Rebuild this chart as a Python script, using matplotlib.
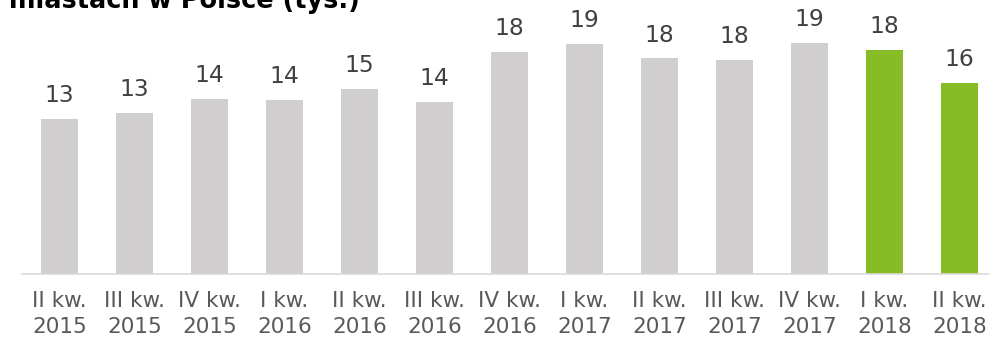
import matplotlib
matplotlib.use("Agg")
import matplotlib.pyplot as plt

# Quarterly values (thousands)
quarters = ["II kw.\n2015", "III kw.\n2015", "IV kw.\n2015", "I kw.\n2016",
            "II kw.\n2016", "III kw.\n2016", "IV kw.\n2016", "I kw.\n2017",
            "II kw.\n2017", "III kw.\n2017", "IV kw.\n2017", "I kw.\n2018",
            "II kw.\n2018"]
values = [12.7, 13.2, 14.4, 14.3, 15.2, 14.1, 18.2, 18.9, 17.7, 17.6, 19.0, 18.4, 15.7]
highlight = [False] * 11 + [True, True]

title = "Sprzedaż mieszkań w największych miastach w Polsce (tys.)"

GREY = "#d0cecf"
GREEN = "#86bc25"
W, H = 989, 337

fig = plt.figure(figsize=(W / 100, H / 100), dpi=100)
ax = fig.add_axes([22 / W, 63 / H, 975 / W, 274 / H])

x = range(len(values))
colors = [GREEN if h else GREY for h in highlight]
bars = ax.bar(x, values, width=0.5, color=colors, zorder=2)

ax.set_xlim(-0.5, len(values) - 0.5)
ax.set_ylim(0, 22.5)

for rect, v in zip(bars, values):
    ax.annotate(f"{round(v):d}", (rect.get_x() + rect.get_width() / 2, v),
                xytext=(0, 12.2), textcoords="offset points",
                ha="center", va="baseline", fontsize=16.8, color="#404040")

ax.set_xticks(list(x))
ax.set_xticklabels(quarters, fontsize=15.5, color="#595959", linespacing=1.38)
ax.tick_params(axis="x", length=0, pad=12.5)
ax.set_yticks([])

for side in ("top", "right", "left"):
    ax.spines[side].set_visible(False)
ax.spines["bottom"].set_color("#d9d9d9")
ax.spines["bottom"].set_linewidth(1.2)

fig.text(360 / W, 1 - 8 / H, title, ha="right", va="baseline",
         fontsize=18.4, fontweight="bold", color="black")

fig.savefig("out.png", dpi=100)
